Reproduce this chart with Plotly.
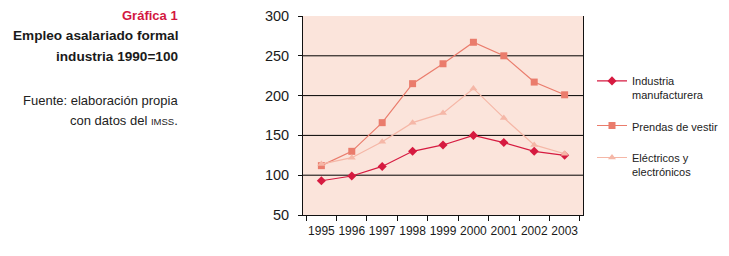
import plotly.graph_objects as go

# ---- data ----
years = ["1995", "1996", "1997", "1998", "1999", "2000", "2001", "2002", "2003"]
industria = [93, 99, 111, 130, 138, 150, 141, 130, 125]
prendas = [112, 130, 166, 215, 240, 267, 250, 217, 201]
electricos = [114, 122, 142, 166, 178, 209, 172, 138, 127]
y_ticks = [50, 100, 150, 200, 250, 300]
grid_vals = [100, 150, 200, 250]

W, H = 729, 256
L, R, T, B = 303, 583, 15.5, 215.5  # plot area pixels
PW, PH = R - L, B - T


def px(x):
    return (x - L) / PW


def py(y):
    return (B - y) / PH


FONT = "Liberation Sans, Arial, Helvetica, sans-serif"
C_IND = "#D61A40"
C_PRE = "#EA7C6C"
C_ELE = "#F5B7A7"

fig = go.Figure()
fig.add_trace(go.Scatter(
    x=years, y=industria, mode="lines+markers",
    name="Industria<br>manufacturera", legendgroup="a",
    line=dict(color=C_IND, width=1.2),
    marker=dict(symbol="diamond", size=7, color=C_IND)))
fig.add_trace(go.Scatter(
    x=years, y=prendas, mode="lines+markers",
    name="Prendas de vestir", legendgroup="b",
    line=dict(color=C_PRE, width=1.2),
    marker=dict(symbol="square", size=7, color=C_PRE)))
fig.add_trace(go.Scatter(
    x=years, y=electricos, mode="lines+markers",
    name="Eléctricos y<br>electrónicos", legendgroup="c",
    line=dict(color=C_ELE, width=1.2),
    marker=dict(symbol="triangle-up", size=7, color=C_ELE)))

shapes = [dict(type="line", xref="paper", x0=0, x1=1, yref="y", y0=v, y1=v,
               line=dict(color="#000000", width=1), layer="below")
          for v in grid_vals]

tx = px(180)
annotations = [
    dict(text="<b>Gráfica 1</b>", x=tx, y=py(15), font=dict(size=13, color="#D3173F")),
    dict(text="<b>Empleo asalariado formal</b>", x=tx, y=py(35), font=dict(size=13.6, color="#1a1a1a")),
    dict(text="<b>industria 1990=100</b>", x=tx, y=py(56), font=dict(size=13.6, color="#1a1a1a")),
    dict(text="Fuente: elaboración propia", x=tx, y=py(100), font=dict(size=13, color="#222222")),
    dict(text="con datos del <span style='font-size:9.5px'>IMSS</span>.", x=tx, y=py(121),
         font=dict(size=13, color="#222222")),
]
for a in annotations:
    a.update(xref="paper", yref="paper", xanchor="right", yanchor="middle",
             showarrow=False, font=dict(family=FONT, **a["font"]))

fig.update_layout(
    width=W, height=H,
    margin=dict(l=L, r=W - R, t=T, b=H - B, autoexpand=False),
    paper_bgcolor="white",
    plot_bgcolor="#FBE4DB",
    font=dict(family=FONT, color="#1a1a1a"),
    showlegend=True,
    legend=dict(x=px(592), y=py(67), xanchor="left", yanchor="top",
                font=dict(size=11, family=FONT, color="#222222"),
                valign="top", tracegroupgap=13, bgcolor="rgba(0,0,0,0)"),
    shapes=shapes,
    annotations=annotations,
    xaxis=dict(type="category", tickson="boundaries", ticks="outside", ticklen=5,
               tickcolor="#111111", showline=True, linecolor="#111111", linewidth=1,
               showgrid=False, tickfont=dict(size=12), tickangle=0, automargin=False,
               ticklabelstandoff=5, zeroline=False),
    yaxis=dict(range=[50, 300], tickvals=y_ticks, ticks="outside", ticklen=4,
               tickcolor="#111111", showline=True, linecolor="#111111", linewidth=1,
               mirror=True, showgrid=False, zeroline=False, automargin=False,
               ticklabelstandoff=6, tickfont=dict(size=14.5)),
)

fig.write_html("out.html", config={"displayModeBar": False},
               post_script="document.body.style.margin='0';")
